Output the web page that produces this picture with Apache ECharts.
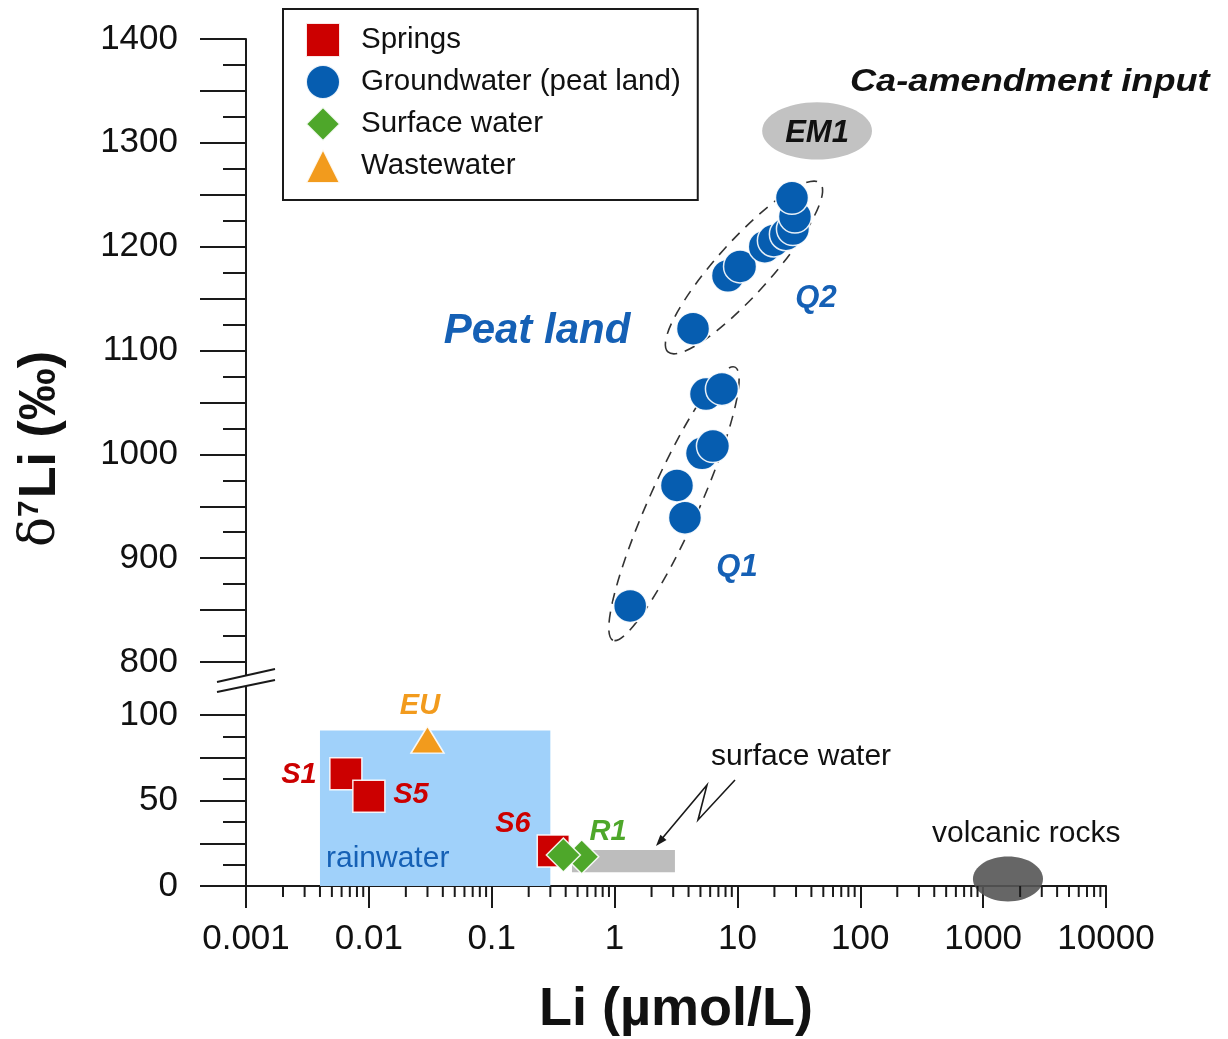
<!DOCTYPE html>
<html><head><meta charset="utf-8">
<script src="https://cdn.jsdelivr.net/npm/echarts@6/dist/echarts.min.js"></script>
<style>html,body{margin:0;padding:0;background:#fff}#chart{width:1228px;height:1039px}</style>
</head><body><div id="chart"></div>
<script>
// ---------- data ----------
const xTickLabels = ['0.001', '0.01', '0.1', '1', '10', '100', '1000', '10000'];
const yUpperLabels = [800, 900, 1000, 1100, 1200, 1300, 1400];
const yLowerLabels = [0, 50, 100];
const xMinorTickValues = [];
for (let d = -3; d < 4; d++) { for (let k = 2; k <= 9; k++) { xMinorTickValues.push(+(k * Math.pow(10, d)).toPrecision(3)); } }

const springs = [[0.0065, 65.7], [0.0100, 52.5], [0.317, 20.5]];
const springNames = ['S1', 'S5', 'S6'];
const groundwater = [
  [1.34, 854], [3.74, 939], [3.22, 970], [5.15, 1001], [6.32, 1008], [5.55, 1058], [7.48, 1063],
  [4.35, 1121], [8.38, 1172], [10.5, 1181], [16.7, 1200], [19.8, 1206], [24.8, 1212], [28.3, 1217], [29.4, 1229], [27.8, 1247]
];
const surfaceWater = [[0.54, 17.1], [0.383, 18.1]];
const wastewater = [[0.030, 85.6]];
// annotation areas (x0, y0, x1, y1) in data units
const rainwaterBox = [[0.004, 0, 0.3, 91]];
const surfaceWaterRange = [[0.45, 8, 3.1, 21]];
const volcanicRange = [[826, -9, 3070, 17.2]];
const em1Range = [[15.9, 1284, 124.5, 1339]];
// dashed group outlines: major-axis endpoints (x0, y0, x1, y1)
const groupOutlines = [[0.97, 821, 9.55, 1084], [2.72, 1098.6, 47, 1261.3]];

// ---------- styles ----------
const FONT = 'Liberation Sans, Arial, sans-serif';
const INK = '#1a1a1a';
const C_RED = '#CC0000', C_BLUE = '#065DB0', C_GREEN = '#4EA72A', C_ORANGE = '#F29B1D';
const TXT_BLUE = '#1560B5';

function boxRender(fill, shapeType, opacity) {
  return function (params, api) {
    const p0 = api.coord([api.value(0), api.value(1)]);
    const p1 = api.coord([api.value(2), api.value(3)]);
    const x = Math.min(p0[0], p1[0]), y = Math.min(p0[1], p1[1]);
    const w = Math.abs(p1[0] - p0[0]), h = Math.abs(p1[1] - p0[1]);
    if (shapeType === 'ellipse') {
      return { type: 'ellipse', shape: { cx: x + w / 2, cy: y + h / 2, rx: w / 2, ry: h / 2 }, style: { fill: fill, opacity: opacity || 1 } };
    }
    return { type: 'rect', shape: { x: x, y: y, width: w, height: h }, style: { fill: fill, opacity: opacity || 1 } };
  };
}
function outlineRender(params, api) {
  const p0 = api.coord([api.value(0), api.value(1)]);
  const p1 = api.coord([api.value(2), api.value(3)]);
  const cx = (p0[0] + p1[0]) / 2, cy = (p0[1] + p1[1]) / 2;
  const len = Math.hypot(p1[0] - p0[0], p1[1] - p0[1]) / 2;
  const ang = Math.atan2(p0[1] - p1[1], p1[0] - p0[0]);
  const minor = params.dataIndex === 0 ? 25 : 27;
  return { type: 'ellipse', x: cx, y: cy, rotation: ang, shape: { cx: 0, cy: 0, rx: len, ry: minor },
    style: { fill: 'none', stroke: '#333', lineWidth: 1.6, lineDash: [11, 8] } };
}
function minorTickRender(params, api) {
  const p = api.coord([api.value(0), 0]);
  return { type: 'line', shape: { x1: p[0], y1: p[1], x2: p[0], y2: p[1] + 11 }, style: { stroke: INK, lineWidth: 2 } };
}

const chart = echarts.init(document.getElementById('chart'), null, { renderer: 'canvas' });

const markerBorder = { borderColor: 'rgba(255,255,255,0.9)', borderWidth: 1.5, opacity: 1 };
function txt(text, x, y, size, color, opts) {
  opts = opts || {};
  return { type: 'text', x: x, y: y, z: 100, scaleX: opts.scaleX || 1,
    style: { text: text, fill: color, fontSize: size, fontFamily: FONT,
      fontWeight: opts.weight || 'normal', fontStyle: opts.style || 'normal',
      align: opts.align || 'center', verticalAlign: 'middle' } };
}
function seg(x1, y1, x2, y2, w) {
  return { type: 'line', z: 100, shape: { x1: x1, y1: y1, x2: x2, y2: y2 }, style: { stroke: INK, lineWidth: w || 2 } };
}

const option = {
  backgroundColor: '#fff',
  animation: false,
  textStyle: { fontFamily: FONT },
  grid: [
    { left: 246, right: 122, top: 39, height: 623 },
    { left: 246, right: 122, top: 715, height: 171 }
  ],
  legend: {
    data: ['Springs', 'Groundwater (peat land)', 'Surface water', 'Wastewater'],
    orient: 'vertical', left: 283, top: 9,
    padding: [13, 17, 16, 22], itemGap: 6, itemWidth: 34, itemHeight: 34,
    backgroundColor: '#fff', borderColor: INK, borderWidth: 2, borderRadius: 0,
    selectedMode: false,
    textStyle: { fontSize: 29.5, color: '#111', fontFamily: FONT, padding: [0, 0, 0, 16], lineHeight: 34 }
  },
  xAxis: [
    { type: 'log', gridIndex: 0, min: 0.001, max: 10000, logBase: 10, show: false, splitNumber: 7 },
    { type: 'log', gridIndex: 1, min: 0.001, max: 10000, logBase: 10, splitNumber: 7,
      axisLine: { lineStyle: { color: INK, width: 2 } },
      axisTick: { inside: false, length: 22, lineStyle: { color: INK, width: 2 } },
      splitLine: { show: false },
      axisLabel: { fontSize: 35, color: '#111', margin: 36, fontFamily: FONT,
        formatter: function (v) { const i = Math.round(Math.log10(v)) + 3; return xTickLabels[i] || ''; } },
      name: 'Li (µmol/L)', nameLocation: 'middle', nameGap: 97,
      nameTextStyle: { fontSize: 54, fontWeight: 'bold', color: '#111', fontFamily: FONT } }
  ],
  yAxis: [
    { type: 'value', gridIndex: 0, min: 800, max: 1400, interval: 50,
      axisLine: { show: true, lineStyle: { color: INK, width: 2 } },
      axisTick: { show: true, inside: false, length: 46, lineStyle: { color: INK, width: 2 } },
      minorTick: { show: true, splitNumber: 2, length: 23, lineStyle: { color: INK, width: 2 } },
      splitLine: { show: false },
      axisLabel: { fontSize: 35, color: '#111', margin: 68, fontFamily: FONT,
        formatter: function (v) { return yUpperLabels.indexOf(v) >= 0 ? String(v) : ''; } } },
    { type: 'value', gridIndex: 1, min: 0, max: 100, interval: 25,
      axisLine: { show: true, lineStyle: { color: INK, width: 2 } },
      axisTick: { show: true, inside: false, length: 46, lineStyle: { color: INK, width: 2 } },
      minorTick: { show: true, splitNumber: 2, length: 23, lineStyle: { color: INK, width: 2 } },
      splitLine: { show: false },
      axisLabel: { fontSize: 35, color: '#111', margin: 68, fontFamily: FONT,
        formatter: function (v) { return yLowerLabels.indexOf(v) >= 0 ? String(v) : ''; } } }
  ],
  series: [
    { type: 'custom', name: 'rainwater', xAxisIndex: 1, yAxisIndex: 1, z: 1, silent: true, clip: false,
      data: rainwaterBox, renderItem: boxRender('#A0D1FA', 'rect') },
    { type: 'custom', name: 'surface water range', xAxisIndex: 1, yAxisIndex: 1, z: 1, silent: true, clip: false,
      data: surfaceWaterRange, renderItem: boxRender('#BDBDBD', 'rect') },
    { type: 'custom', name: 'volcanic rocks', xAxisIndex: 1, yAxisIndex: 1, z: 1, silent: true, clip: false,
      data: volcanicRange, renderItem: boxRender('#555555', 'ellipse', 0.9) },
    { type: 'custom', name: 'EM1', xAxisIndex: 0, yAxisIndex: 0, z: 1, silent: true, clip: false,
      data: em1Range, renderItem: boxRender('#C2C2C2', 'ellipse') },
    { type: 'custom', name: 'groups', xAxisIndex: 0, yAxisIndex: 0, z: 1, silent: true, clip: false,
      data: groupOutlines, renderItem: outlineRender },
    { type: 'custom', name: 'minor ticks', xAxisIndex: 1, yAxisIndex: 1, z: 1, silent: true, clip: false,
      data: xMinorTickValues.map(function (v) { return [v]; }), renderItem: minorTickRender },
    { type: 'scatter', name: 'Springs', xAxisIndex: 1, yAxisIndex: 1, z: 3,
      symbol: 'rect', symbolSize: 32, data: springs,
      itemStyle: Object.assign({ color: C_RED }, markerBorder) },
    { type: 'scatter', name: 'Groundwater (peat land)', xAxisIndex: 0, yAxisIndex: 0, z: 3,
      symbol: 'circle', symbolSize: 33, data: groundwater,
      itemStyle: Object.assign({ color: C_BLUE }, markerBorder) },
    { type: 'scatter', name: 'Surface water', xAxisIndex: 1, yAxisIndex: 1, z: 4,
      symbol: 'diamond', symbolSize: 34, data: surfaceWater,
      itemStyle: Object.assign({ color: C_GREEN }, markerBorder) },
    { type: 'scatter', name: 'Wastewater', xAxisIndex: 1, yAxisIndex: 1, z: 3,
      symbol: 'triangle', symbolSize: [33, 27], data: wastewater,
      itemStyle: Object.assign({ color: C_ORANGE }, markerBorder) }
  ],
  graphic: [
    // axis break
    seg(246, 662, 246, 676), seg(246, 715, 246, 686),
    seg(217, 682, 275, 669), seg(217, 692, 275, 680),
    // arrow to surface water range
    { type: 'polyline', z: 100, shape: { points: [[735, 780], [698, 820], [707, 785], [660, 841]] },
      style: { stroke: INK, lineWidth: 1.6, fill: 'none' } },
    { type: 'polygon', z: 100, shape: { points: [[656, 846], [666.5, 839.9], [660.4, 834.8]] }, style: { fill: INK } },
    // y axis title
    { type: 'text', x: 41, y: 449, rotation: Math.PI / 2, z: 100,
      style: { text: '{d|δ}{s|7}{b|Li (‰)}', align: 'center', verticalAlign: 'middle',
        rich: {
          d: { fontSize: 50, fontFamily: 'DejaVu Serif, serif', fill: '#111' },
          s: { fontSize: 30, fontWeight: 'bold', fontFamily: FONT, fill: '#111', padding: [0, 2, 22, 0] },
          b: { fontSize: 52, fontWeight: 'bold', fontFamily: FONT, fill: '#111' }
        } } },
    // annotations
    txt('Ca-amendment input', 850, 82, 32, '#111', { weight: 'bold', style: 'italic', align: 'left', scaleX: 1.13 }),
    txt('EM1', 817, 133, 31, '#111', { weight: 'bold', style: 'italic' }),
    txt('Peat land', 537, 331, 42, TXT_BLUE, { weight: 'bold', style: 'italic' }),
    txt('Q2', 816, 298, 31, TXT_BLUE, { weight: 'bold', style: 'italic' }),
    txt('Q1', 737, 567, 31, TXT_BLUE, { weight: 'bold', style: 'italic' }),
    txt(springNames[0], 299, 775, 29, C_RED, { weight: 'bold', style: 'italic' }),
    txt(springNames[1], 411, 795, 29, C_RED, { weight: 'bold', style: 'italic' }),
    txt(springNames[2], 513, 824, 29, C_RED, { weight: 'bold', style: 'italic' }),
    txt('EU', 420, 706, 29, C_ORANGE, { weight: 'bold', style: 'italic' }),
    txt('R1', 608, 832, 29, C_GREEN, { weight: 'bold', style: 'italic' }),
    txt('rainwater', 326, 859, 30, TXT_BLUE, { align: 'left' }),
    txt('surface water', 711, 757, 30, '#111', { align: 'left' }),
    txt('volcanic rocks', 932, 834, 30, '#111', { align: 'left' })
  ]
};
chart.setOption(option);
</script>
</body></html>
